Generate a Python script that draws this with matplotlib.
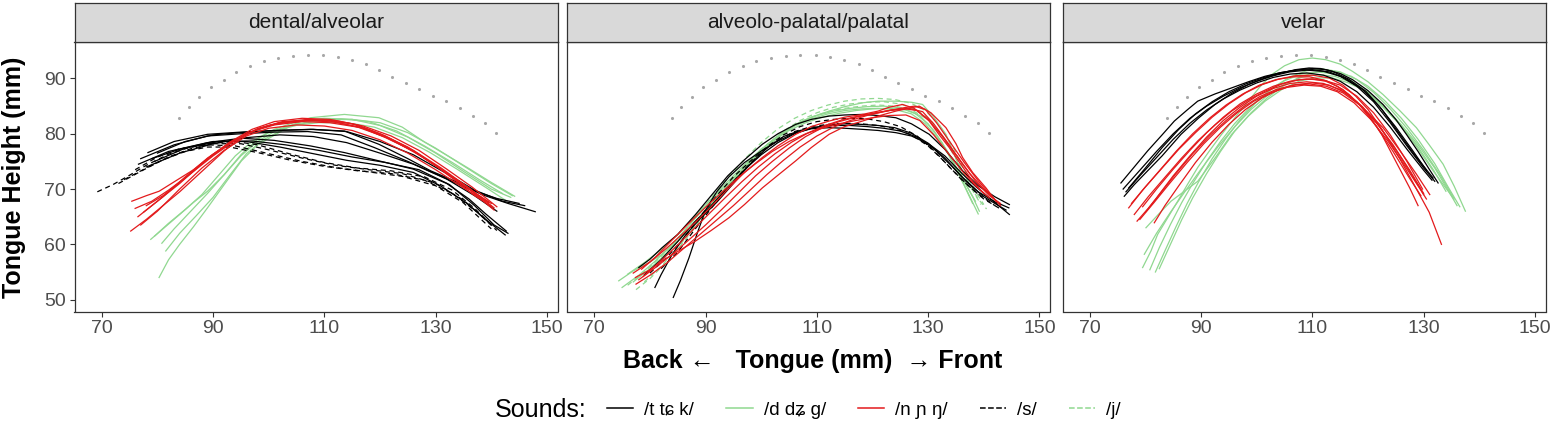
import matplotlib
matplotlib.use('Agg')
import matplotlib.pyplot as plt
from matplotlib.lines import Line2D

plt.rcParams['font.family'] = ['Liberation Sans', 'DejaVu Sans']

# palate trace (same in every panel)
palate_x = [83.9, 85.6, 87.5, 89.6, 91.9, 94.2, 96.7, 99.1, 101.7, 104.4, 107.0, 109.8, 112.4,
            114.9, 117.5, 119.9, 122.2, 124.6, 127.1, 129.5, 131.9, 134.3, 136.7, 138.9, 140.9]
palate_y = [82.9, 84.9, 86.7, 88.4, 89.8, 91.2, 92.3, 93.1, 93.7, 94.1, 94.3, 94.2, 93.9,
            93.3, 92.7, 91.5, 90.2, 89.2, 88.1, 86.9, 85.9, 84.7, 83.3, 81.9, 80.2]

panels = ['dental/alveolar', 'alveolo-palatal/palatal', 'velar']
sound_labels = ['/t t\u0255 k/', '/d d\u0291 \u0261/', '/n \u0272 \u014b/', '/s/', '/j/']
sound_colors = ['black', '#90D890', '#E31A1C', 'black', '#90D890']
sound_styles = ['-', '-', '-', '--', '--']

# ---- dental/alveolar ----
dent_t = [
    [(78.3, 76.6), (83, 78.6), (89, 79.9), (95, 80.3), (101, 80.6), (107.5, 80.8), (113.6, 80.5), (119.8, 78.1),
     (125, 75.5), (129.1, 73.3), (134, 71.2), (138.3, 69.0), (143, 67.4), (147.9, 65.9)],
    [(77, 75.5), (83, 78), (89, 79.6), (95, 80.0), (101, 80.3), (107, 80.4), (113, 79.8), (119, 77.5),
     (125, 75.0), (131, 72.3), (136, 70), (141, 68.3), (145, 67.4)],
    [(76.6, 74.5), (82, 76.8), (89, 78.4), (95.1, 79.2), (101, 78.8), (107.5, 77.8), (113.6, 76.6), (119.8, 75.1),
     (126, 73.6), (132, 71), (136, 68.2), (139, 65.5), (142.7, 62.4)],
    [(79, 75.5), (84, 77.2), (90, 78.6), (96, 78.6), (102, 77.6), (108, 76.4), (114, 75.2), (120, 74.3),
     (126, 73), (131, 70.5), (135.5, 67.5), (139, 64.5), (142.5, 61.7)],
    [(78, 74), (84, 76.5), (90, 78.2), (96, 79.3), (102, 79.8), (108, 79.5), (114, 78.4), (120, 76.5),
     (126, 74.5), (132, 71.8), (137, 68.8), (141, 66)],
    [(80, 76.5), (85, 78.6), (90, 79.8), (96, 80.3), (102, 80.6), (108, 80.8), (114, 80.4), (120, 78.6),
     (126, 76.2), (132, 72.8), (137, 69.8), (142, 67.8), (146, 67)],
    [(79.5, 75), (85, 77.4), (91, 78.6), (97, 78.7), (103, 78), (109, 77), (115, 75.8), (121, 74.8),
     (127, 73.5), (132.5, 70.8), (137, 67), (140.5, 63.5), (143, 62)],
]
dent_s = [
    [(69.2, 69.5), (72, 70.8), (75, 72.5), (78, 74.3), (82, 76.3), (86, 77.6), (90, 78.3), (94, 78.6), (98, 78.0),
     (104, 76.3), (110, 74.8), (116, 73.8), (122, 73.3), (128, 72.2), (133, 69.8), (137, 66.5), (140, 63.5)],
    [(74, 71.7), (78, 73.8), (82, 75.8), (86, 77.3), (90, 78.2), (95, 78.2), (100, 77.1), (106, 75.6), (112, 74.3),
     (118, 73.5), (124, 72.8), (130, 71), (135, 68), (139.5, 64)],
    [(76, 73.5), (80, 75.8), (84, 77.3), (89, 78), (94, 77.8), (100, 76.4), (106, 75), (112, 73.9), (118, 73.1),
     (124, 72.3), (130, 70.6), (135, 67.5), (140, 62.8)],
    [(73, 71), (77, 73.2), (81, 75.3), (85, 76.8), (89, 77.6), (93, 77.6), (98, 76.6), (104, 75.2), (110, 74.1),
     (116, 73.3), (122, 72.8), (128, 71.6), (133, 69.2), (137.5, 65.8), (141, 62.5)],
]
dent_n = [
    [(75.2, 62.4), (78, 64.5), (81, 67), (84, 69.5), (88, 73.2), (92, 76.9), (95, 79.3), (98.2, 81.0), (102.5, 82.2),
     (107, 82.5), (111, 82.3), (116.7, 81.1), (121, 79.3), (126, 76.9), (130, 74.2), (134, 71.2), (137, 68.8),
     (140.2, 66.8)],
    [(75.4, 67.8), (78, 68.8), (80.3, 69.6), (83, 71.3), (86.5, 73.5), (90, 76.3), (94, 78.9), (98, 80.9),
     (102, 82.0), (107, 82.4), (112, 82.1), (117, 81), (122, 79), (127, 76.2), (132, 72.9), (136, 70.0),
     (140.5, 66.2)],
    [(76.5, 65), (80, 67.8), (84, 71), (88, 74.6), (92, 77.6), (96, 80), (100, 81.5), (105, 82.3), (110, 82.5),
     (115, 81.8), (120, 80), (125, 77.6), (130, 74.3), (135, 70.8), (139.5, 67.6)],
    [(77, 63.5), (80, 66), (84, 70), (88, 73.8), (92, 77), (96, 79.6), (100, 81), (105, 81.6), (110, 81.4),
     (115, 80.6), (120, 78.9), (125, 76.5), (130, 73.5), (135, 70.2), (139, 67.8)],
    [(78, 67), (81, 68.8), (85, 72), (89, 75.5), (93, 78.5), (97, 80.8), (101, 82.2), (106, 82.8), (111, 82.6),
     (116, 81.6), (121, 79.6), (126, 77), (131, 73.8), (136, 70.2), (140.5, 66.6)],
    [(76, 66.5), (79, 67.8), (82, 69.8), (86, 72.8), (90, 76), (94, 78.8), (98, 80.8), (102, 82), (107, 82.6),
     (112, 82.4), (117, 81.4), (122, 79.6), (127, 77), (132, 73.6), (136.5, 70.4), (141, 66.8)],
    [(77.5, 65.8), (81, 68.6), (85, 72.2), (89, 75.6), (93, 78.4), (97, 80.4), (101, 81.6), (106, 82.2), (111, 82),
     (116, 81.2), (121, 79.4), (126, 76.8), (131, 73.6), (136, 70), (140, 67.4)],
]
dent_d = [
    [(80.3, 54.0), (82, 57.2), (84, 60), (86.5, 63.2), (89, 66.6), (92, 70.8), (95.1, 75.1), (98, 78), (101.3, 79.9),
     (104, 81.5), (107.5, 82.9), (113.6, 83.5), (119.8, 82.9), (124, 81.2), (128, 78.5), (132.2, 76.0),
     (136, 73.7), (140, 71.2), (144.2, 68.7)],
    [(78.8, 60.9), (81, 62.8), (84, 65.4), (86.5, 67.6), (89, 69.6), (92, 72.6), (95.1, 76.3), (98, 79), (101, 80.8),
     (105, 82.2), (110, 82.8), (115, 82.6), (120, 81.5), (125, 79.4), (130, 76.5), (135, 73.2), (140, 70),
     (143.5, 68.5)],
    [(79.5, 61.5), (82, 63.8), (85, 66.3), (88, 69), (91, 72.5), (94, 76), (97, 78.6), (100, 80.3), (104, 81.5),
     (109, 82), (114, 82), (119, 81.2), (124, 79.3), (129, 76.6), (134, 73.5), (139, 70.3), (142.5, 68)],
    [(81.5, 58.8), (84, 62), (87, 65.2), (90, 68.5), (93, 72.5), (96, 76.4), (99, 78.9), (103, 81), (108, 82.3),
     (113, 82.7), (118, 82.2), (123, 80.5), (128, 77.8), (133, 74.8), (138, 71.6), (142, 69.2)],
    [(80.8, 60.2), (83, 62.8), (86, 66), (89, 69.2), (92, 72.6), (95, 76), (98, 78.6), (101, 80.4), (105, 81.8),
     (110, 82.5), (115, 82.6), (120, 82), (125, 80.2), (130, 77.4), (135, 74.2), (140, 71), (143.8, 68.8)],
]

# ---- alveolo-palatal/palatal ----
pal_t = [
    [(84.2, 50.4), (85.5, 53.5), (87, 57.5), (88.5, 62), (90, 66.2), (92, 69.5), (94.2, 72.2), (97, 74.8),
     (100.2, 77.0), (103, 78.7), (106.2, 80.2), (109, 80.9), (112.2, 81.1), (115, 81), (118.2, 80.8), (121, 80.6),
     (124.2, 80.2), (127, 79.6), (130.2, 78.1), (133, 76), (136.2, 72.7), (138.5, 70.5), (141, 68.4), (144.6, 65.4)],
    [(78, 55.8), (80, 57.3), (82.2, 59.4), (85, 61.8), (88.2, 65.4), (91, 68.8), (94, 72.4), (97, 75.3),
     (100.2, 78.1), (103, 80), (106.2, 81.7), (109, 82.6), (112.2, 83.2), (115, 83.4), (118.2, 83.5), (121, 83.3),
     (124.2, 82.9), (127, 81.8), (130.2, 79.9), (133, 77.2), (136.2, 73.3), (139, 70.6), (142, 68.6), (144.6, 67.2)],
    [(80.9, 52.2), (82, 54.5), (84, 58.2), (86.5, 61.8), (89, 64.6), (92, 67.6), (95, 71), (98, 74.5), (101, 77.4),
     (104, 79.5), (107, 80.6), (110, 81.2), (113, 81.5), (116, 81.5), (119, 81.3), (122, 81), (125, 80.5),
     (128, 79.4), (131, 77.3), (134, 74.4), (137, 71.2), (140, 68.6), (144, 66.2)],
    [(79, 54.5), (82, 57.2), (85, 60.5), (88, 64), (91, 67), (94, 70.3), (97, 73.5), (100, 76.2), (103, 78.4),
     (106, 80.0), (109, 81.0), (112, 81.6), (115, 81.8), (118, 81.7), (121, 81.5), (124, 81.1), (127, 80.1),
     (130, 78.3), (133, 75.6), (136, 72.3), (139, 69.5), (142, 67.7), (144.5, 66.6)],
]
pal_s = [
    [(80, 54.8), (83, 57.6), (86, 61), (89, 65), (92, 68.8), (95, 72.2), (98, 75), (101, 77.6), (104, 79.8),
     (107, 81.3), (110, 82.2), (113, 82.6), (116, 82.8), (119, 82.7), (122, 82.2), (125, 81.3), (128, 79.6),
     (131, 77), (134, 73.8), (137, 70.8), (140, 68.2), (143, 66.4)],
    [(82, 55.6), (85, 58.6), (88, 62.6), (91, 66.5), (94, 70.2), (97, 73.6), (100, 76.6), (103, 78.9), (106, 80.4),
     (109, 81.3), (112, 81.7), (115, 81.9), (118, 81.8), (121, 81.5), (124, 80.9), (127, 79.8), (130, 77.8),
     (133, 74.9), (136, 71.7), (139, 69.1), (142, 67)],
]
pal_n = [
    [(77.4, 54), (80, 55.4), (82.2, 57), (85, 58.7), (88.2, 60.6), (91, 62.5), (94.2, 64.8), (97, 67.2),
     (100.2, 70.2), (103, 72.5), (106.2, 75.1), (109, 77.5), (112.2, 79.9), (115, 81.3), (118.2, 82.3), (121, 83.2),
     (124.2, 84.1), (126.5, 84.6), (128.4, 85), (130.5, 83.8), (133.2, 81.1), (135, 78.2), (136.2, 75.7), (138, 73),
     (140.4, 70.2), (142.2, 67.8)],
    [(77, 54.8), (80, 56.8), (83, 59.3), (86, 62), (88.2, 64), (91, 66.8), (94.2, 70.2), (97, 73), (100.2, 75.7),
     (103, 77.8), (106.2, 79.9), (109, 81.3), (112.2, 82.3), (115, 83), (118.2, 83.5), (121, 84.1), (123, 84.8),
     (125.4, 85.3), (127.5, 84.6), (130.2, 82.3), (132, 79.8), (133.8, 77.5), (136, 74.3), (138, 71.4), (140, 69.2)],
    [(78, 53.6), (81, 55.8), (84, 58.2), (87, 60.8), (90, 63.5), (93, 66.4), (96, 69.4), (99, 72.4), (102, 75),
     (105, 77.4), (108, 79.5), (111, 81.1), (114, 82.2), (117, 83), (120, 83.6), (123, 84.2), (126, 84.5),
     (128, 84.2), (130, 82.6), (132.5, 79.6), (135, 76.2), (137.5, 72.8), (140, 70), (142.5, 67.6)],
    [(78.5, 55.5), (81, 57.7), (84, 60.8), (87, 63.8), (90, 66.7), (93, 69.5), (96, 72.2), (99, 74.6), (102, 76.8),
     (105, 78.6), (108, 80), (111, 81), (114, 81.8), (117, 82.4), (120, 82.9), (123, 83.3), (126, 83.4),
     (128.5, 82.4), (131, 79.8), (133.5, 76.6), (136, 73.4), (138.5, 70.6), (141, 68.4)],
    [(77.5, 52.8), (80, 54.4), (83, 56.6), (86, 59.2), (89, 61.8), (92, 64.4), (95, 67), (98, 69.8), (101, 72.6),
     (104, 75.2), (107, 77.6), (110, 79.6), (113, 81.2), (116, 82.4), (119, 83.3), (122, 84), (125, 84.6),
     (127.5, 85), (129.5, 84.4), (131.5, 82), (134, 78.4), (136.5, 74.8), (139, 71.5), (141.5, 68.6), (143, 67)],
    [(78.8, 54.2), (81.5, 56.6), (84.5, 59.4), (87.5, 62.4), (90.5, 65.4), (93.5, 68.4), (96.5, 71.3), (99.5, 74),
     (102.5, 76.4), (105.5, 78.5), (108.5, 80.2), (111.5, 81.5), (114.5, 82.5), (117.5, 83.2), (120.5, 83.8),
     (123.5, 84.3), (126.5, 84.6), (129, 84), (131, 81.8), (133.5, 78.4), (136, 74.8), (138.5, 71.4), (141, 68.8),
     (143, 67.4)],
]
pal_d = [
    [(74.4, 53.4), (77, 55.2), (80, 56.8), (82.2, 58.2), (85, 60.6), (88.2, 64.2), (91, 67.2), (94.2, 70.2),
     (97, 73.6), (100.2, 76.9), (103, 79.3), (106.2, 81.7), (109, 83), (112.2, 84.1), (115, 84.9), (118.2, 85.6),
     (121, 85.9), (124.2, 85.9), (127, 85.7), (129, 85.3), (131, 83), (133.2, 79.9), (135, 75.6), (136.2, 72),
     (138, 68.6), (139.2, 66)],
    [(75, 52.2), (78, 54.4), (81, 57), (84, 60), (87, 63.4), (90, 66.8), (93, 70), (96, 73), (99, 76), (102, 78.6),
     (105, 80.6), (108, 82), (111, 83), (114, 83.7), (117, 84.2), (120, 84.5), (123, 84.6), (126, 84.3),
     (128.5, 83.3), (131, 80.6), (133.5, 76.8), (135.5, 72.8), (137.5, 68.6), (139, 65.5)],
    [(76, 54.6), (79, 56.7), (82, 59), (85, 61.8), (88, 65), (91, 68.2), (94, 71.4), (97, 74.4), (100, 77.2),
     (103, 79.6), (106, 81.4), (109, 82.7), (112, 83.6), (115, 84.2), (118, 84.5), (121, 84.6), (124, 84.4),
     (127, 83.6), (129.5, 81.8), (132, 78.8), (134.5, 75), (136.5, 71.3), (138.5, 67.8)],
    [(77, 53.2), (80, 55.6), (83, 58.4), (86, 61.6), (89, 65), (92, 68.4), (95, 71.8), (98, 75), (101, 77.9),
     (104, 80.3), (107, 82.1), (110, 83.3), (113, 84.1), (116, 84.6), (119, 84.9), (122, 85), (125, 84.7),
     (127.5, 83.8), (130, 81.8), (132.5, 78.4), (134.5, 74.6), (136.5, 70.6), (138, 67.4)],
]
pal_j = [
    [(76, 52.6), (79, 55), (82, 57.8), (85, 61), (88, 64.6), (91, 68.4), (94, 72), (97, 75.4), (100, 78.4),
     (103, 80.9), (106, 82.8), (109, 84.2), (112, 85.2), (115, 85.9), (118, 86.3), (121, 86.4), (124, 86.2),
     (127, 85.5), (129.5, 84.2), (132, 81.6), (134.5, 77.6), (136.5, 73.4), (138.5, 69.6), (140, 67.2)],
    [(77.5, 51.8), (80, 53.8), (83, 56.8), (86, 60.4), (89, 64.2), (92, 68), (95, 71.7), (98, 75), (101, 78),
     (104, 80.5), (107, 82.4), (110, 83.8), (113, 84.8), (116, 85.4), (119, 85.7), (122, 85.8), (125, 85.4),
     (128, 84.3), (130.5, 82.4), (133, 79), (135.5, 74.6), (137.5, 70.6), (139.5, 67.2)],
    [(79, 53.2), (82, 56), (85, 59.4), (88, 63.2), (91, 67), (94, 70.8), (97, 74.2), (100, 77.2), (103, 79.6),
     (106, 81.6), (109, 83), (112, 84), (115, 84.6), (118, 85), (121, 85.2), (124, 85), (127, 84.3), (130, 82.6),
     (132.5, 79.6), (135, 75.6), (137, 71.6), (139, 68.2), (140.5, 66.4)],
]

# ---- velar ----
vel_t = [
    [(75.6, 71.1), (78, 74), (80.4, 76.9), (83, 79.8), (85.2, 82.3), (87.5, 84.3), (89.4, 85.9), (92.5, 87.2),
     (95.5, 88.3), (98.5, 89.4), (101.5, 90.4), (104.5, 91.1), (107.6, 91.6), (110, 91.8), (112.4, 91.6),
     (115, 90.9), (117.2, 89.8), (120, 87.8), (122.7, 85.3), (125, 82.6), (126.9, 79.9), (129, 76.8), (131, 73.6),
     (132.6, 71.1)],
    [(76.2, 68.7), (78, 70.8), (80.4, 73.3), (83, 76), (86.4, 79.9), (89.5, 82.8), (92.5, 85.3), (95.5, 87.3),
     (98.5, 88.9), (101.5, 90.1), (104.5, 91), (107, 91.6), (109.4, 91.9), (111.5, 91.8), (113.6, 91.3),
     (116.5, 89.9), (119.6, 87.7), (122.5, 84.4), (125.7, 79.9), (128.5, 76), (131.7, 72)],
    [(76.5, 69.5), (79, 72.4), (82, 75.7), (85, 79), (88, 81.9), (91, 84.3), (94, 86.3), (97, 87.9), (100, 89.2),
     (103, 90.2), (106, 90.8), (109, 91), (112, 90.6), (115, 89.5), (118, 87.6), (121, 84.8), (124, 81.2),
     (127, 77.2), (130, 73.4), (131.5, 71.6)],
    [(77, 70.2), (80, 73.8), (83, 77.5), (86, 80.8), (89, 83.6), (92, 85.8), (95, 87.6), (98, 89), (101, 90.1),
     (104, 91), (107, 91.5), (110, 91.6), (113, 91.2), (116, 90), (119, 88), (122, 85), (125, 81.2), (128, 77),
     (130.5, 73.4)],
    [(76, 70), (79, 73.4), (82, 76.8), (85, 80), (88, 82.8), (91, 85), (94, 86.8), (97, 88.3), (100, 89.5),
     (103, 90.5), (106, 91.2), (109, 91.5), (112, 91.3), (115, 90.4), (118, 88.6), (121, 85.8), (124, 82),
     (127, 77.8), (130, 73.8), (132, 71.4)],
]
vel_n = [
    [(78, 65.4), (80.5, 68.6), (83.4, 72), (86.5, 75.6), (89.4, 78.7), (92.5, 81.6), (95.5, 84.1), (98.5, 86.1),
     (101.5, 87.7), (104.5, 89), (107.6, 89.8), (110, 89.9), (112.4, 89.5), (114.5, 88.6), (116.6, 87.1),
     (119.5, 84.3), (122.7, 81.1), (125.7, 77), (128.7, 72.7), (131.1, 69)],
    [(77.5, 67.4), (80, 70.4), (83, 73.8), (86, 77.2), (89, 80.2), (92, 83), (95, 85.4), (98, 87.4), (101, 88.9),
     (104, 89.9), (107, 90.5), (110, 90.6), (113, 90.1), (115.5, 88.8), (117.8, 86.8), (120, 84.4), (122.5, 80.8),
     (125.7, 75.5), (128.5, 70.4), (131, 65.8), (133.2, 60)],
    [(79, 64.5), (81.5, 67.5), (84.5, 71.2), (87.5, 74.8), (90.5, 78.2), (93.5, 81.2), (96.5, 83.8), (99.5, 85.9),
     (102.5, 87.4), (105.5, 88.4), (108.5, 88.8), (111.5, 88.6), (114.5, 87.6), (117.5, 85.6), (120.5, 82.6),
     (123.5, 78.8), (126.5, 74.4), (129.5, 69.8), (130.5, 68.2)],
    [(81.6, 63.9), (83.5, 67), (86, 70.6), (89, 74.8), (92, 78.5), (95, 81.7), (98, 84.4), (101, 86.5), (104, 88),
     (107, 88.9), (110, 89.2), (113, 88.8), (116, 87.4), (119, 84.9), (122, 81.4), (125, 77.1), (128, 72.4),
     (130, 69)],
    [(77, 66.6), (79.5, 69.8), (82.5, 73.3), (85.5, 76.8), (88.5, 80), (91.5, 82.8), (94.5, 85.2), (97.5, 87.2),
     (100.5, 88.8), (103.5, 89.8), (106.5, 90.3), (109.5, 90.3), (112.5, 89.6), (115.5, 88), (118.5, 85.2),
     (121.5, 81.4), (124.5, 76.8), (127.5, 71.9), (129.5, 68.8)],
    [(78.5, 64.2), (80.5, 66.5), (82, 68.4), (85, 72.4), (88, 76), (91, 79.4), (94, 82.4), (97, 84.8), (100, 86.8),
     (103, 88.2), (106, 89.1), (109, 89.4), (112, 89.1), (115, 88), (118, 85.8), (120, 83.6), (122.5, 79.8),
     (125, 75), (127.5, 70.2), (129, 67)],
    [(80, 65.8), (82.5, 69), (85.5, 72.8), (88.5, 76.4), (91.5, 79.6), (94.5, 82.4), (97.5, 84.8), (100.5, 86.7),
     (103.5, 88), (106.5, 88.8), (109.5, 89), (112.5, 88.6), (115.5, 87.4), (118.5, 85.2), (121.5, 82), (124.5, 78),
     (127.5, 73.4), (130, 69.2)],
    [(79.5, 66.8), (82, 70), (85, 73.6), (88, 77), (91, 80.2), (94, 83), (97, 85.4), (100, 87.2), (103, 88.6),
     (106, 89.5), (109, 89.9), (112, 89.7), (115, 88.8), (118, 86.8), (121, 83.8), (124, 79.8), (127, 75),
     (129.8, 70)],
]
vel_d = [
    [(79.5, 55.8), (81, 58.8), (82.2, 61.8), (84, 64.8), (85.8, 67.8), (87.6, 70.9), (89.4, 73.9), (91.5, 76.9),
     (93.7, 79.9), (96, 82.8), (98.5, 85.9), (100.5, 88.4), (102.7, 90.7), (105, 92.3), (107.6, 93.4), (110, 93.7),
     (112.4, 93.4), (115, 92.6), (117.2, 91.3), (120, 89.4), (122.7, 87.1), (125.7, 84.2), (128.7, 81.1), (131, 78),
     (133.5, 74.5), (135.5, 70.5), (137.5, 66)],
    [(80.1, 63), (82.5, 65.6), (84.6, 67.8), (87, 69.6), (89.4, 71.4), (92.5, 75.6), (95.5, 79.9), (98.5, 83.2),
     (101.5, 85.9), (104.5, 88), (107.6, 89.5), (110.5, 90.1), (113.6, 90.1), (116.5, 89.2), (119.6, 87.7),
     (122.5, 85), (125.7, 81.7), (128.5, 78), (131.7, 73.3), (135.3, 68.4)],
    [(80.8, 55.4), (82.5, 59.4), (84.5, 63.6), (86.5, 67.5), (88.5, 71), (91, 75), (93.5, 78.6), (96, 81.8),
     (99, 85), (102, 87.6), (105, 89.6), (108, 90.8), (111, 91.2), (114, 90.8), (117, 89.6), (120, 87.5),
     (123, 84.8), (126, 81.6), (129, 78), (132, 73.8), (134.5, 69.6), (136, 67)],
    [(81.8, 55), (83.5, 58.8), (85.5, 63.2), (87.5, 67.4), (89.5, 71.2), (92, 75.5), (94.5, 79.2), (97, 82.5),
     (100, 85.8), (103, 88.4), (106, 90.3), (109, 91.4), (112, 91.7), (115, 91.2), (118, 89.8), (121, 87.5),
     (124, 84.5), (127, 81), (130, 77), (133, 72.5), (135.5, 68.2)],
    [(79.8, 58.2), (82, 62), (84.5, 65.8), (87, 69.4), (90, 73.6), (93, 77.6), (96, 81.2), (99, 84.4), (102, 87),
     (105, 89), (108, 90.2), (111, 90.7), (114, 90.4), (117, 89.3), (120, 87.4), (123, 84.7), (126, 81.4),
     (129, 77.6), (131.8, 73.4), (134, 69.6)],
    [(82.5, 55.6), (84.5, 60), (86.5, 64.4), (88.5, 68.4), (91, 72.8), (93.5, 76.8), (96, 80.4), (99, 83.8),
     (102, 86.6), (105, 88.8), (108, 90.4), (111, 91.2), (114, 91.2), (117, 90.4), (120, 88.6), (123, 86),
     (126, 82.8), (129, 79), (132, 74.6), (134.5, 70.2), (136.5, 66.8)],
]

# sound index -> curves, per panel (drawing order)
panel_curves = [
    [(1, dent_d), (0, dent_t), (3, dent_s), (2, dent_n)],
    [(1, pal_d), (4, pal_j), (0, pal_t), (3, pal_s), (2, pal_n)],
    [(1, vel_d), (2, vel_n), (0, vel_t)],
]

W, H = 1556, 436
fig = plt.figure(figsize=(W / 100, H / 100), dpi=100)

lefts = [74.5, 567, 1062.5]
pw = 483
top, bottom, strip_top = 42, 311.5, 3.5
dark = '#333333'

for i, name in enumerate(panels):
    ax = fig.add_axes([lefts[i] / W, 1 - bottom / H, pw / W, (bottom - top) / H])
    ax.scatter(palate_x, palate_y, s=5, color='#A8A8A8', linewidths=0, zorder=1)
    for k, curves in panel_curves[i]:
        for c in curves:
            xs = [p[0] for p in c]
            ys = [p[1] for p in c]
            ax.plot(xs, ys, color=sound_colors[k], ls=sound_styles[k], lw=0.9,
                    dashes=(4, 3) if sound_styles[k] == '--' else (None, None), zorder=2)
    ax.set_xlim(65.1, 151.9)
    ax.set_ylim(47.85, 96.6)
    ax.set_xticks([70, 90, 110, 130, 150])
    ax.set_yticks([50, 60, 70, 80, 90])
    ax.tick_params(length=3.5, width=0.8, color=dark, labelsize=14, labelcolor='#4D4D4D', pad=2.5)
    if i > 0:
        ax.tick_params(axis='y', left=False, labelleft=False)
    for sp in ax.spines.values():
        sp.set_color(dark)
        sp.set_linewidth(0.9)
    # strip
    sx = fig.add_axes([lefts[i] / W, 1 - top / H, pw / W, (top - strip_top) / H])
    sx.set_facecolor('#D9D9D9')
    sx.set_xticks([])
    sx.set_yticks([])
    for sp in sx.spines.values():
        sp.set_color(dark)
        sp.set_linewidth(0.9)
    sx.text(0.5, 0.5, name, ha='center', va='center', fontsize=15, color='#1A1A1A',
            transform=sx.transAxes)

fig.text(14 / W, 1 - 177 / H, 'Tongue Height (mm)', rotation=90, ha='center', va='center',
         fontsize=18, fontweight='bold')
fig.text(813 / W, 1 - 361 / H, 'Back \u2190   Tongue (mm)  \u2192 Front', ha='center', va='center',
         fontsize=18, fontweight='bold')

fig.text(587 / W, 1 - 410 / H, 'Sounds:', ha='right', va='center', fontsize=18)
handles = [Line2D([], [], color=sound_colors[k], ls=sound_styles[k], lw=1.1) for k in range(5)]
fig.legend(handles, sound_labels, loc='center left', bbox_to_anchor=(607 / W, 1 - 410 / H), ncol=5,
           frameon=False, fontsize=13.5, handlelength=1.4, handletextpad=0.6, columnspacing=1.7,
           borderaxespad=0, borderpad=0)

fig.savefig('out.png', dpi=100)
